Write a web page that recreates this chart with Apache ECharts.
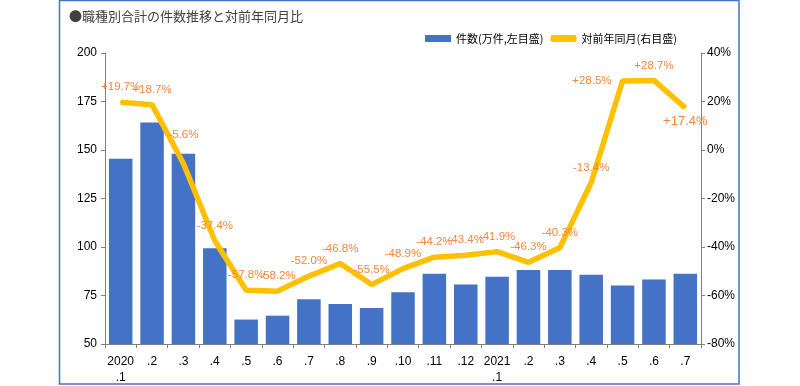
<!DOCTYPE html>
<html><head><meta charset="utf-8">
<script src="https://cdn.jsdelivr.net/npm/echarts@6/dist/echarts.min.js"></script>
<style>html,body{margin:0;padding:0;background:#fff}#c{width:800px;height:386px}</style>
</head><body><div id="c"></div>
<script>
const categories = ['2020\n.1','.2','.3','.4','.5','.6','.7','.8','.9','.10','.11','.12','2021\n.1','.2','.3','.4','.5','.6','.7'];
const counts = [145.5,164.2,148.1,99.3,62.6,64.6,73.1,70.6,68.6,76.7,86.2,80.7,84.7,88.2,88.2,85.7,80.2,83.2,86.2];
const yoy = [19.7,18.7,-5.6,-37.4,-57.8,-58.2,-52.0,-46.8,-55.5,-48.9,-44.2,-43.4,-41.9,-46.3,-40.3,-13.4,28.5,28.7,17.4];
const yoyLabels = ['+19.7%','+18.7%','-5.6%','-37.4%','-57.8%','-58.2%','-52.0%','-46.8%','-55.5%','-48.9%','-44.2%','-43.4%','-41.9%','-46.3%','-40.3%','-13.4%','+28.5%','+28.7%','+17.4%'];
const barName = '件数(万件,左目盛)';
const lineName = '対前年同月(右目盛)';
const FONT = '"Liberation Sans", Arial, sans-serif';
const JFONT = '"Noto Sans CJK JP", sans-serif';

const lineData = yoy.map((v, i) => {
  const d = { value: v };
  if (i === 2) d.label = { offset: [0, -14] };
  if (i === 16) d.label = { position: 'left', distance: 10 };
  if (i === 18) d.label = { position: 'bottom', distance: 6, fontSize: 13 };
  return d;
});

const chart = echarts.init(document.getElementById('c'), null, { renderer: 'canvas' });
chart.setOption({
  animation: false,
  backgroundColor: '#fff',
  textStyle: { fontFamily: FONT },
  title: {
    text: '●職種別合計の件数推移と対前年同月比',
    left: 64, top: 5,
    textStyle: { fontSize: 13, fontWeight: 'normal', color: '#404040', fontFamily: JFONT }
  },
  legend: {
    right: 118, top: 28,
    itemGap: 7, itemWidth: 26, itemHeight: 7,
    textStyle: { fontSize: 11, color: '#000', fontFamily: JFONT },
    data: [{ name: barName, icon: 'rect' }, { name: lineName, icon: 'roundRect', itemStyle: { color: '#FFC000' } }]
  },
  graphic: [{
    type: 'rect', silent: true, z: -1,
    shape: { x: 59.5, y: 0.5, width: 679.5, height: 383.5 },
    style: { fill: 'none', stroke: '#4472C4', lineWidth: 1.5 }
  }],
  grid: { left: 105, right: 99, top: 53, bottom: 36 },
  xAxis: {
    type: 'category', data: categories, boundaryGap: true,
    axisLine: { onZero: false, lineStyle: { color: '#808080' } },
    axisTick: { show: true, length: 4, lineStyle: { color: '#808080' } },
    axisLabel: { color: '#000', fontSize: 12, interval: 0, margin: 10, lineHeight: 16, fontFamily: FONT }
  },
  yAxis: [{
    type: 'value', min: 50, max: 200, interval: 25,
    axisLine: { show: true, lineStyle: { color: '#808080' } },
    axisTick: { show: true, length: 4, lineStyle: { color: '#808080' } },
    splitLine: { show: false },
    axisLabel: { color: '#000', fontSize: 12, margin: 8, fontFamily: FONT }
  }, {
    type: 'value', min: -80, max: 40, interval: 20,
    axisLine: { show: true, lineStyle: { color: '#808080' } },
    axisTick: { show: true, length: 4, lineStyle: { color: '#808080' } },
    splitLine: { show: false },
    axisLabel: { color: '#000', fontSize: 12, margin: 6, formatter: '{value}%', fontFamily: FONT }
  }],
  series: [{
    name: barName, type: 'bar', data: counts, yAxisIndex: 0,
    barWidth: '75%',
    itemStyle: { color: '#4472C4' }
  }, {
    name: lineName, type: 'line', data: lineData, yAxisIndex: 1,
    symbol: 'circle', symbolSize: 2, showSymbol: true, z: 5,
    lineStyle: { color: '#FFC000', width: 5.5 },
    itemStyle: { color: '#FFC000' },
    label: {
      show: true, position: 'top', distance: 8,
      color: '#F2863E', fontSize: 11.5, fontFamily: FONT,
      formatter: p => yoyLabels[p.dataIndex]
    }
  }]
});
</script></body></html>
